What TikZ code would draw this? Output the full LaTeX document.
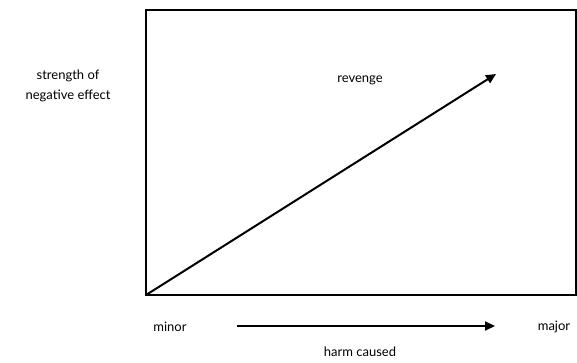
\documentclass[tikz,border=0pt]{standalone}
\usepackage{fontspec}
\setmainfont{Lato}
\usetikzlibrary{arrows.meta}
\begin{document}
\begin{tikzpicture}[x=1pt,y=-1pt,font=\fontsize{13}{20}\selectfont,>={Triangle[length=10pt,width=9pt]},
 axis/.style={line width=1.8pt},
 line/.style={->,line width=2pt},
 label/.style={inner sep=0pt,align=center}]
\useasboundingbox (0,0) rectangle (577,362);
\coordinate (origin) at (146,295);
\coordinate (topright) at (576,10);
\draw[axis] (origin) rectangle (topright);
\coordinate (revtip) at (496,74);
\draw[line] (origin)--(revtip);
\node[label] (revenge) at (360,80) {revenge};
\node[label] (effect) at (68,86) {strength of\\negative effect};
\node[label] (minor) at (170,327) {minor};
\node[label] (major) at (554,327) {major};
\coordinate (harmstart) at (237,326);
\coordinate (harmend) at (495,326);
\draw[line] (harmstart)--(harmend);
\node[label] (harm) at (360,352) {harm caused};
\end{tikzpicture}
\end{document}
